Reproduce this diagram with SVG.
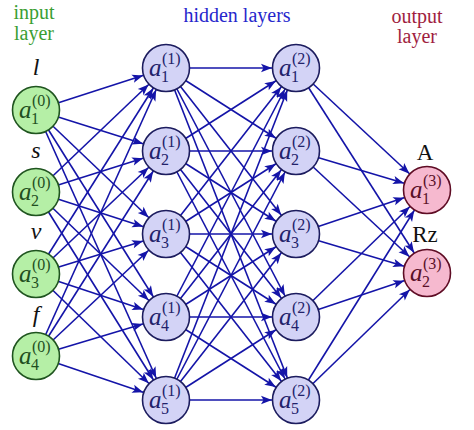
<svg xmlns="http://www.w3.org/2000/svg" width="474" height="430" viewBox="0 0 474 430">
<style>
.lbl{font-family:"Liberation Serif",serif;font-size:20px;text-anchor:middle}
.var{font-family:"Liberation Serif",serif;font-size:24px;font-style:italic;text-anchor:middle;fill:#111}
.out{font-family:"Liberation Serif",serif;font-size:23px;text-anchor:middle;fill:#111}
.e line{stroke:#1414a8;stroke-width:1.6;marker-end:url(#ah)}
.in circle{fill:#b5efa6;stroke:#1f541f;stroke-width:1.6}
.hd circle{fill:#d3d3f6;stroke:#1c1c5e;stroke-width:1.6}
.op circle{fill:#f6b9cf;stroke:#5e0c24;stroke-width:1.6}
.a{font-family:"Liberation Serif",serif;font-size:25px;font-style:italic}
.s{font-family:"Liberation Serif",serif;font-size:16px}
.in text{fill:#1f4f1f}
.hd text{fill:#22226a}
.op text{fill:#5a1028}
</style>
<defs>
<marker id="ah" viewBox="-40 -10 40 20" markerWidth="40" markerHeight="20" refX="0" refY="0" markerUnits="userSpaceOnUse" orient="auto">
<path d="M-24,0 L-35,-4.2 L-32.5,0 L-35,4.2 z" fill="#1414a8"/>
</marker>
</defs>
<rect width="474" height="430" fill="#fff"/>
<text class="lbl" x="34" y="19" fill="#3a9e32">input</text>
<text class="lbl" x="34" y="40" fill="#3a9e32">layer</text>
<text class="lbl" x="237" y="22" fill="#2626cc">hidden layers</text>
<text class="lbl" x="417" y="23" fill="#a01e40">output</text>
<text class="lbl" x="417" y="43" fill="#a01e40">layer</text>
<text class="var" x="36" y="75">l</text>
<text class="var" x="36" y="158">s</text>
<text class="var" x="36" y="239">v</text>
<text class="var" x="36" y="322">f</text>
<text class="out" x="425" y="160">A</text>
<text class="out" x="425" y="242">Rz</text>
<g id="connectors" class="e">
<line x1="36" y1="110" x2="166" y2="68"/><line x1="36" y1="110" x2="166" y2="151"/><line x1="36" y1="110" x2="166" y2="234"/><line x1="36" y1="110" x2="166" y2="317"/><line x1="36" y1="110" x2="166" y2="400"/>
<line x1="36" y1="192" x2="166" y2="68"/><line x1="36" y1="192" x2="166" y2="151"/><line x1="36" y1="192" x2="166" y2="234"/><line x1="36" y1="192" x2="166" y2="317"/><line x1="36" y1="192" x2="166" y2="400"/>
<line x1="36" y1="274" x2="166" y2="68"/><line x1="36" y1="274" x2="166" y2="151"/><line x1="36" y1="274" x2="166" y2="234"/><line x1="36" y1="274" x2="166" y2="317"/><line x1="36" y1="274" x2="166" y2="400"/>
<line x1="36" y1="356" x2="166" y2="68"/><line x1="36" y1="356" x2="166" y2="151"/><line x1="36" y1="356" x2="166" y2="234"/><line x1="36" y1="356" x2="166" y2="317"/><line x1="36" y1="356" x2="166" y2="400"/>
<line x1="166" y1="68" x2="296" y2="68"/><line x1="166" y1="68" x2="296" y2="151"/><line x1="166" y1="68" x2="296" y2="234"/><line x1="166" y1="68" x2="296" y2="317"/><line x1="166" y1="68" x2="296" y2="400"/>
<line x1="166" y1="151" x2="296" y2="68"/><line x1="166" y1="151" x2="296" y2="151"/><line x1="166" y1="151" x2="296" y2="234"/><line x1="166" y1="151" x2="296" y2="317"/><line x1="166" y1="151" x2="296" y2="400"/>
<line x1="166" y1="234" x2="296" y2="68"/><line x1="166" y1="234" x2="296" y2="151"/><line x1="166" y1="234" x2="296" y2="234"/><line x1="166" y1="234" x2="296" y2="317"/><line x1="166" y1="234" x2="296" y2="400"/>
<line x1="166" y1="317" x2="296" y2="68"/><line x1="166" y1="317" x2="296" y2="151"/><line x1="166" y1="317" x2="296" y2="234"/><line x1="166" y1="317" x2="296" y2="317"/><line x1="166" y1="317" x2="296" y2="400"/>
<line x1="166" y1="400" x2="296" y2="68"/><line x1="166" y1="400" x2="296" y2="151"/><line x1="166" y1="400" x2="296" y2="234"/><line x1="166" y1="400" x2="296" y2="317"/><line x1="166" y1="400" x2="296" y2="400"/>
<line x1="296" y1="68" x2="427" y2="190"/><line x1="296" y1="68" x2="427" y2="273"/>
<line x1="296" y1="151" x2="427" y2="190"/><line x1="296" y1="151" x2="427" y2="273"/>
<line x1="296" y1="234" x2="427" y2="190"/><line x1="296" y1="234" x2="427" y2="273"/>
<line x1="296" y1="317" x2="427" y2="190"/><line x1="296" y1="317" x2="427" y2="273"/>
<line x1="296" y1="400" x2="427" y2="190"/><line x1="296" y1="400" x2="427" y2="273"/>
</g>
<g id="a1_0" class="in"><circle cx="36" cy="110" r="23.5"/><text class="a" x="19" y="118">a</text><text class="s" x="32" y="106">(0)</text><text class="s" x="31" y="124">1</text></g>
<g id="a2_0" class="in"><circle cx="36" cy="192" r="23.5"/><text class="a" x="19" y="200">a</text><text class="s" x="32" y="188">(0)</text><text class="s" x="31" y="206">2</text></g>
<g id="a3_0" class="in"><circle cx="36" cy="274" r="23.5"/><text class="a" x="19" y="282">a</text><text class="s" x="32" y="270">(0)</text><text class="s" x="31" y="288">3</text></g>
<g id="a4_0" class="in"><circle cx="36" cy="356" r="23.5"/><text class="a" x="19" y="364">a</text><text class="s" x="32" y="352">(0)</text><text class="s" x="31" y="370">4</text></g>
<g id="a1_1" class="hd"><circle cx="166" cy="68" r="23.5"/><text class="a" x="149" y="76">a</text><text class="s" x="162" y="64">(1)</text><text class="s" x="161" y="82">1</text></g>
<g id="a2_1" class="hd"><circle cx="166" cy="151" r="23.5"/><text class="a" x="149" y="159">a</text><text class="s" x="162" y="147">(1)</text><text class="s" x="161" y="165">2</text></g>
<g id="a3_1" class="hd"><circle cx="166" cy="234" r="23.5"/><text class="a" x="149" y="242">a</text><text class="s" x="162" y="230">(1)</text><text class="s" x="161" y="248">3</text></g>
<g id="a4_1" class="hd"><circle cx="166" cy="317" r="23.5"/><text class="a" x="149" y="325">a</text><text class="s" x="162" y="313">(1)</text><text class="s" x="161" y="331">4</text></g>
<g id="a5_1" class="hd"><circle cx="166" cy="400" r="23.5"/><text class="a" x="149" y="408">a</text><text class="s" x="162" y="396">(1)</text><text class="s" x="161" y="414">5</text></g>
<g id="a1_2" class="hd"><circle cx="296" cy="68" r="23.5"/><text class="a" x="279" y="76">a</text><text class="s" x="292" y="64">(2)</text><text class="s" x="291" y="82">1</text></g>
<g id="a2_2" class="hd"><circle cx="296" cy="151" r="23.5"/><text class="a" x="279" y="159">a</text><text class="s" x="292" y="147">(2)</text><text class="s" x="291" y="165">2</text></g>
<g id="a3_2" class="hd"><circle cx="296" cy="234" r="23.5"/><text class="a" x="279" y="242">a</text><text class="s" x="292" y="230">(2)</text><text class="s" x="291" y="248">3</text></g>
<g id="a4_2" class="hd"><circle cx="296" cy="317" r="23.5"/><text class="a" x="279" y="325">a</text><text class="s" x="292" y="313">(2)</text><text class="s" x="291" y="331">4</text></g>
<g id="a5_2" class="hd"><circle cx="296" cy="400" r="23.5"/><text class="a" x="279" y="408">a</text><text class="s" x="292" y="396">(2)</text><text class="s" x="291" y="414">5</text></g>
<g id="a1_3" class="op"><circle cx="427" cy="190" r="23.5"/><text class="a" x="410" y="198">a</text><text class="s" x="423" y="186">(3)</text><text class="s" x="422" y="204">1</text></g>
<g id="a2_3" class="op"><circle cx="427" cy="273" r="23.5"/><text class="a" x="410" y="281">a</text><text class="s" x="423" y="269">(3)</text><text class="s" x="422" y="287">2</text></g>
</svg>
